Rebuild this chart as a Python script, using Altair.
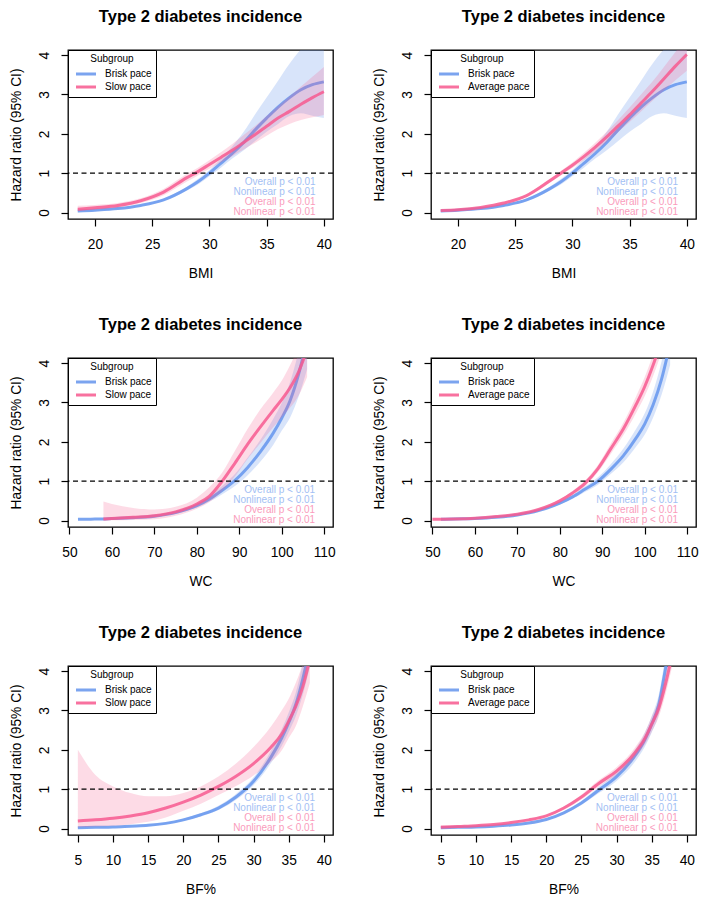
import altair as alt
import pandas as pd

BLUE = "#6495ED"
PINK = "#F7598F"
FONT = "Liberation Sans"
W, H = 265, 169
YDOM = [-0.165, 4.13]

# ---------------- BMI ----------------
bmi_x = [18.5, 20, 22, 24, 26, 28, 29, 30, 31, 32, 33, 34, 35, 36, 37, 38, 39, 40]
bmi_brisk_hr = [0.04, 0.06, 0.10, 0.18, 0.32, 0.60, 0.78, 1.00, 1.25, 1.50, 1.78, 2.10, 2.40, 2.68, 2.92, 3.12, 3.25, 3.32]
bmi_brisk_lo = [0.03, 0.05, 0.09, 0.16, 0.29, 0.55, 0.71, 0.92, 1.14, 1.37, 1.58, 1.82, 2.05, 2.25, 2.45, 2.52, 2.46, 2.40]
bmi_brisk_hi = [0.05, 0.07, 0.12, 0.20, 0.35, 0.65, 0.85, 1.08, 1.36, 1.68, 2.05, 2.50, 2.92, 3.35, 3.78, 4.15, 4.45, 4.75]
bmi_slow_hr = [0.08, 0.12, 0.18, 0.30, 0.52, 0.88, 1.04, 1.22, 1.40, 1.58, 1.78, 1.98, 2.19, 2.40, 2.57, 2.75, 2.92, 3.07]
bmi_slow_lo = [0.04, 0.07, 0.13, 0.24, 0.44, 0.78, 0.94, 1.11, 1.27, 1.43, 1.60, 1.77, 1.95, 2.12, 2.25, 2.35, 2.42, 2.48]
bmi_slow_hi = [0.17, 0.19, 0.24, 0.36, 0.60, 0.98, 1.14, 1.33, 1.53, 1.74, 1.97, 2.20, 2.45, 2.70, 2.95, 3.20, 3.45, 3.70]
bmi_avg_hr = [0.05, 0.07, 0.13, 0.24, 0.43, 0.80, 1.00, 1.20, 1.42, 1.66, 1.92, 2.20, 2.48, 2.78, 3.08, 3.40, 3.72, 4.02]
bmi_avg_lo = [0.04, 0.06, 0.12, 0.22, 0.40, 0.75, 0.94, 1.13, 1.33, 1.55, 1.79, 2.05, 2.30, 2.57, 2.84, 3.10, 3.36, 3.60]
bmi_avg_hi = [0.06, 0.08, 0.14, 0.26, 0.46, 0.85, 1.06, 1.27, 1.51, 1.77, 2.05, 2.35, 2.67, 3.00, 3.33, 3.70, 4.08, 4.45]

# ---------------- WC ----------------
wc_brisk_x = [52, 55, 58, 60, 65, 70, 75, 80, 83, 86, 89, 92, 95, 98, 100, 102, 104, 106]
wc_brisk_hr = [0.03, 0.035, 0.04, 0.05, 0.07, 0.11, 0.20, 0.38, 0.55, 0.77, 1.02, 1.35, 1.75, 2.22, 2.60, 3.05, 3.72, 4.60]
wc_brisk_lo = [0.025, 0.03, 0.035, 0.04, 0.06, 0.09, 0.17, 0.33, 0.48, 0.67, 0.88, 1.15, 1.50, 1.92, 2.28, 2.62, 3.15, 3.85]
wc_brisk_hi = [0.035, 0.04, 0.05, 0.06, 0.09, 0.13, 0.23, 0.43, 0.63, 0.88, 1.18, 1.60, 2.05, 2.58, 2.98, 3.52, 4.30, 5.30]
wc_slow_x = [58, 60, 65, 70, 75, 80, 83, 86, 89, 92, 95, 98, 100, 102, 104, 106]
wc_slow_hr = [0.04, 0.05, 0.08, 0.12, 0.22, 0.42, 0.62, 1.00, 1.46, 1.94, 2.38, 2.80, 3.07, 3.38, 3.78, 4.35]
wc_slow_lo = [0.005, 0.005, 0.01, 0.03, 0.12, 0.30, 0.47, 0.75, 1.12, 1.57, 1.97, 2.37, 2.62, 2.87, 3.18, 3.65]
wc_slow_hi = [0.48, 0.42, 0.32, 0.28, 0.35, 0.58, 0.85, 1.22, 1.77, 2.33, 2.83, 3.25, 3.55, 3.95, 4.42, 5.05]

wc2_brisk_x = [52, 55, 60, 65, 70, 75, 80, 83, 86, 89, 92, 95, 98, 100, 102, 104, 106]
wc2_brisk_hr = [0.03, 0.04, 0.05, 0.08, 0.14, 0.25, 0.44, 0.60, 0.80, 1.00, 1.30, 1.65, 2.10, 2.45, 2.94, 3.60, 4.50]
wc2_brisk_lo = [0.025, 0.03, 0.045, 0.07, 0.13, 0.23, 0.41, 0.55, 0.73, 0.91, 1.18, 1.48, 1.88, 2.18, 2.62, 3.20, 3.95]
wc2_brisk_hi = [0.04, 0.05, 0.06, 0.09, 0.15, 0.27, 0.47, 0.65, 0.87, 1.10, 1.43, 1.83, 2.33, 2.72, 3.28, 4.05, 5.10]
wc2_avg_x = [50, 55, 60, 65, 70, 75, 80, 83, 86, 89, 92, 95, 98, 100, 102, 104]
wc2_avg_hr = [0.03, 0.04, 0.06, 0.10, 0.16, 0.28, 0.50, 0.70, 0.95, 1.32, 1.82, 2.33, 2.95, 3.40, 3.95, 4.60]
wc2_avg_lo = [0.025, 0.035, 0.055, 0.09, 0.15, 0.26, 0.46, 0.65, 0.88, 1.23, 1.69, 2.17, 2.74, 3.16, 3.67, 4.28]
wc2_avg_hi = [0.04, 0.05, 0.07, 0.11, 0.17, 0.30, 0.54, 0.75, 1.02, 1.41, 1.95, 2.49, 3.16, 3.64, 4.23, 4.92]

# ---------------- BF% ----------------
bf_x = [5, 7.5, 10, 12.5, 15, 17.5, 20, 22.5, 25, 27.5, 30, 32.5, 34, 35, 36, 37, 38]
bf_brisk_hr = [0.02, 0.03, 0.04, 0.06, 0.08, 0.13, 0.22, 0.35, 0.52, 0.80, 1.20, 1.82, 2.30, 2.69, 3.15, 3.80, 4.60]
bf_brisk_lo = [0.015, 0.025, 0.035, 0.05, 0.07, 0.11, 0.19, 0.31, 0.47, 0.73, 1.10, 1.67, 2.10, 2.45, 2.85, 3.40, 4.10]
bf_brisk_hi = [0.03, 0.035, 0.05, 0.07, 0.10, 0.15, 0.25, 0.39, 0.58, 0.88, 1.30, 1.98, 2.52, 2.95, 3.45, 4.20, 5.10]
bf_slow_hr = [0.19, 0.22, 0.26, 0.32, 0.40, 0.52, 0.67, 0.85, 1.07, 1.33, 1.65, 2.07, 2.40, 2.73, 3.10, 3.60, 4.30]
bf_slow_lo = [0.03, 0.05, 0.07, 0.11, 0.17, 0.28, 0.45, 0.63, 0.85, 1.08, 1.35, 1.70, 1.98, 2.30, 2.60, 3.10, 3.70]
bf_slow_hi = [2.00, 1.36, 1.07, 0.90, 0.82, 0.82, 0.90, 1.07, 1.32, 1.65, 2.07, 2.60, 3.00, 3.30, 3.70, 4.20, 5.00]

bf2_brisk_hr = [0.02, 0.03, 0.04, 0.06, 0.09, 0.14, 0.23, 0.40, 0.65, 0.98, 1.32, 1.82, 2.25, 2.65, 3.15, 4.10, 5.10]
bf2_brisk_lo = [0.015, 0.025, 0.035, 0.055, 0.08, 0.13, 0.21, 0.37, 0.60, 0.90, 1.21, 1.67, 2.07, 2.44, 2.90, 3.77, 4.69]
bf2_brisk_hi = [0.03, 0.035, 0.045, 0.065, 0.10, 0.15, 0.25, 0.43, 0.70, 1.06, 1.43, 1.97, 2.43, 2.86, 3.40, 4.43, 5.51]
bf2_avg_hr = [0.03, 0.05, 0.07, 0.10, 0.15, 0.22, 0.32, 0.52, 0.80, 1.15, 1.46, 1.90, 2.28, 2.65, 3.05, 3.70, 4.50]
bf2_avg_lo = [0.01, 0.035, 0.06, 0.09, 0.14, 0.20, 0.30, 0.48, 0.74, 1.07, 1.36, 1.77, 2.12, 2.46, 2.84, 3.44, 4.19]
bf2_avg_hi = [0.08, 0.07, 0.085, 0.11, 0.16, 0.24, 0.34, 0.56, 0.86, 1.23, 1.56, 2.03, 2.44, 2.84, 3.26, 3.96, 4.82]

# axis setup per panel
bmi_dom, bmi_ticks = [17.65, 40.8], [20, 25, 30, 35, 40]
wc_dom, wc_ticks = [49.65, 112.1], [50, 60, 70, 80, 90, 100, 110]
bf_dom, bf_ticks = [3.6, 41.3], [5, 10, 15, 20, 25, 30, 35, 40]

ann_labels = ["Overall p < 0.01", "Nonlinear p < 0.01"]
ann_y_blue = [0.69, 0.44]
ann_y_pink = [0.19, -0.06]


def frame(x, hr, lo, hi, name):
    return pd.DataFrame({"x": x, "hr": hr, "lo": lo, "hi": hi, "group": name})


def panel(xlab, xdom, xticks, brisk, other, other_name, ann_x):
    cscale = alt.Scale(domain=["Brisk pace", other_name], range=[BLUE, PINK])
    xs = alt.Scale(domain=xdom, nice=False, zero=False)
    ys = alt.Scale(domain=YDOM, nice=False, zero=False)
    xaxis = alt.Axis(values=xticks, title=xlab, titleX=W / 2, titleY=58,
                     titleBaseline="alphabetic", titleAlign="center",
                     labelPadding=11.5, labelFlush=False, labelOverlap=False)
    yaxis = alt.Axis(values=[0, 1, 2, 3, 4], title="Hazard ratio (95% CI)",
                     labelAngle=270, labelAlign="center", labelBaseline="bottom",
                     labelPadding=10, labelFlush=False, labelOverlap=False,
                     titleAngle=270, titleX=-48, titleY=H / 2,
                     titleBaseline="alphabetic", titleAlign="center")
    leg = alt.Legend(title="Subgroup", orient="top-left", offset=0, padding=4,
                     fillColor="white", strokeColor="black",
                     titleFont=FONT, titleFontSize=10, titleFontWeight="normal",
                     titleColor="black", titleAnchor="middle", titlePadding=3.5,
                     labelFont=FONT, labelFontSize=10, labelColor="black",
                     labelOffset=12.5, symbolType="M-2,0H2", symbolSize=100,
                     symbolStrokeWidth=3, symbolOffset=7.5, symbolOpacity=0.85,
                     rowPadding=0)
    X = alt.X("x:Q", scale=xs, axis=xaxis)
    layers = []
    for df, col, op in ((brisk, BLUE, 0.25), (other, PINK, 0.22)):
        layers.append(
            alt.Chart(df).mark_area(color=col, opacity=op, clip=True, interpolate="monotone").encode(
                x=X, y=alt.Y("lo:Q", scale=ys, axis=yaxis), y2="hi:Q"))
        layers.append(
            alt.Chart(df).mark_line(strokeWidth=3, opacity=0.85, clip=True, interpolate="monotone").encode(
                x=X, y=alt.Y("hr:Q", scale=ys, axis=yaxis),
                stroke=alt.Stroke("group:N", scale=cscale, legend=leg)))
    ref = alt.Chart(pd.DataFrame({"ref": [1]})).mark_rule(
        color="black", strokeDash=[5, 3.5], strokeWidth=1.4).encode(
        y=alt.Y("ref:Q", scale=ys, axis=yaxis))
    tb = alt.Chart(pd.DataFrame({"x": [ann_x] * 2, "y": ann_y_blue, "t": ann_labels})).mark_text(
        align="right", baseline="alphabetic", font=FONT, fontSize=10, color=BLUE, opacity=0.6).encode(
        x=alt.X("x:Q", scale=xs, axis=xaxis), y=alt.Y("y:Q", scale=ys, axis=yaxis), text="t:N")
    tp = alt.Chart(pd.DataFrame({"x": [ann_x] * 2, "y": ann_y_pink, "t": ann_labels})).mark_text(
        align="right", baseline="alphabetic", font=FONT, fontSize=10, color=PINK, opacity=0.6).encode(
        x=alt.X("x:Q", scale=xs, axis=xaxis), y=alt.Y("y:Q", scale=ys, axis=yaxis), text="t:N")
    title = alt.TitleParams("Type 2 diabetes incidence", font=FONT, fontSize=16.5,
                            fontWeight="bold", color="black", anchor="middle",
                            frame="group", offset=11, baseline="alphabetic")
    return alt.layer(*layers, ref, tb, tp).properties(width=W, height=H, title=title)


p1 = panel("BMI", bmi_dom, bmi_ticks,
           frame(bmi_x, bmi_brisk_hr, bmi_brisk_lo, bmi_brisk_hi, "Brisk pace"),
           frame(bmi_x, bmi_slow_hr, bmi_slow_lo, bmi_slow_hi, "Slow pace"), "Slow pace", 39.28)
p2 = panel("BMI", bmi_dom, bmi_ticks,
           frame(bmi_x, bmi_brisk_hr, bmi_brisk_lo, bmi_brisk_hi, "Brisk pace"),
           frame(bmi_x, bmi_avg_hr, bmi_avg_lo, bmi_avg_hi, "Average pace"), "Average pace", 39.24)
p3 = panel("WC", wc_dom, wc_ticks,
           frame(wc_brisk_x, wc_brisk_hr, wc_brisk_lo, wc_brisk_hi, "Brisk pace"),
           frame(wc_slow_x, wc_slow_hr, wc_slow_lo, wc_slow_hi, "Slow pace"), "Slow pace", 107.9)
p4 = panel("WC", wc_dom, wc_ticks,
           frame(wc2_brisk_x, wc2_brisk_hr, wc2_brisk_lo, wc2_brisk_hi, "Brisk pace"),
           frame(wc2_avg_x, wc2_avg_hr, wc2_avg_lo, wc2_avg_hi, "Average pace"), "Average pace", 107.9)
p5 = panel("BF%", bf_dom, bf_ticks,
           frame(bf_x, bf_brisk_hr, bf_brisk_lo, bf_brisk_hi, "Brisk pace"),
           frame(bf_x, bf_slow_hr, bf_slow_lo, bf_slow_hi, "Slow pace"), "Slow pace", 38.76)
p6 = panel("BF%", bf_dom, bf_ticks,
           frame(bf_x, bf2_brisk_hr, bf2_brisk_lo, bf2_brisk_hi, "Brisk pace"),
           frame(bf_x, bf2_avg_hr, bf2_avg_lo, bf2_avg_hi, "Average pace"), "Average pace", 38.72)

chart = alt.concat(p1, p2, p3, p4, p5, p6, columns=2, bounds="flush",
                   spacing={"row": 139, "column": 98}).resolve_scale(
    x="independent", y="independent", stroke="independent").resolve_legend(
    stroke="independent").configure_view(stroke="black", strokeWidth=1.3).configure_axis(
    domain=False, grid=False, tickColor="black", tickWidth=1.2, tickSize=7,
    labelColor="black", labelFont=FONT, labelFontSize=13.75,
    titleColor="black", titleFont=FONT, titleFontSize=13.75, titleFontWeight="normal").properties(
    padding=0)

chart.save("out.html", embed_options={"renderer": "svg", "actions": False})
